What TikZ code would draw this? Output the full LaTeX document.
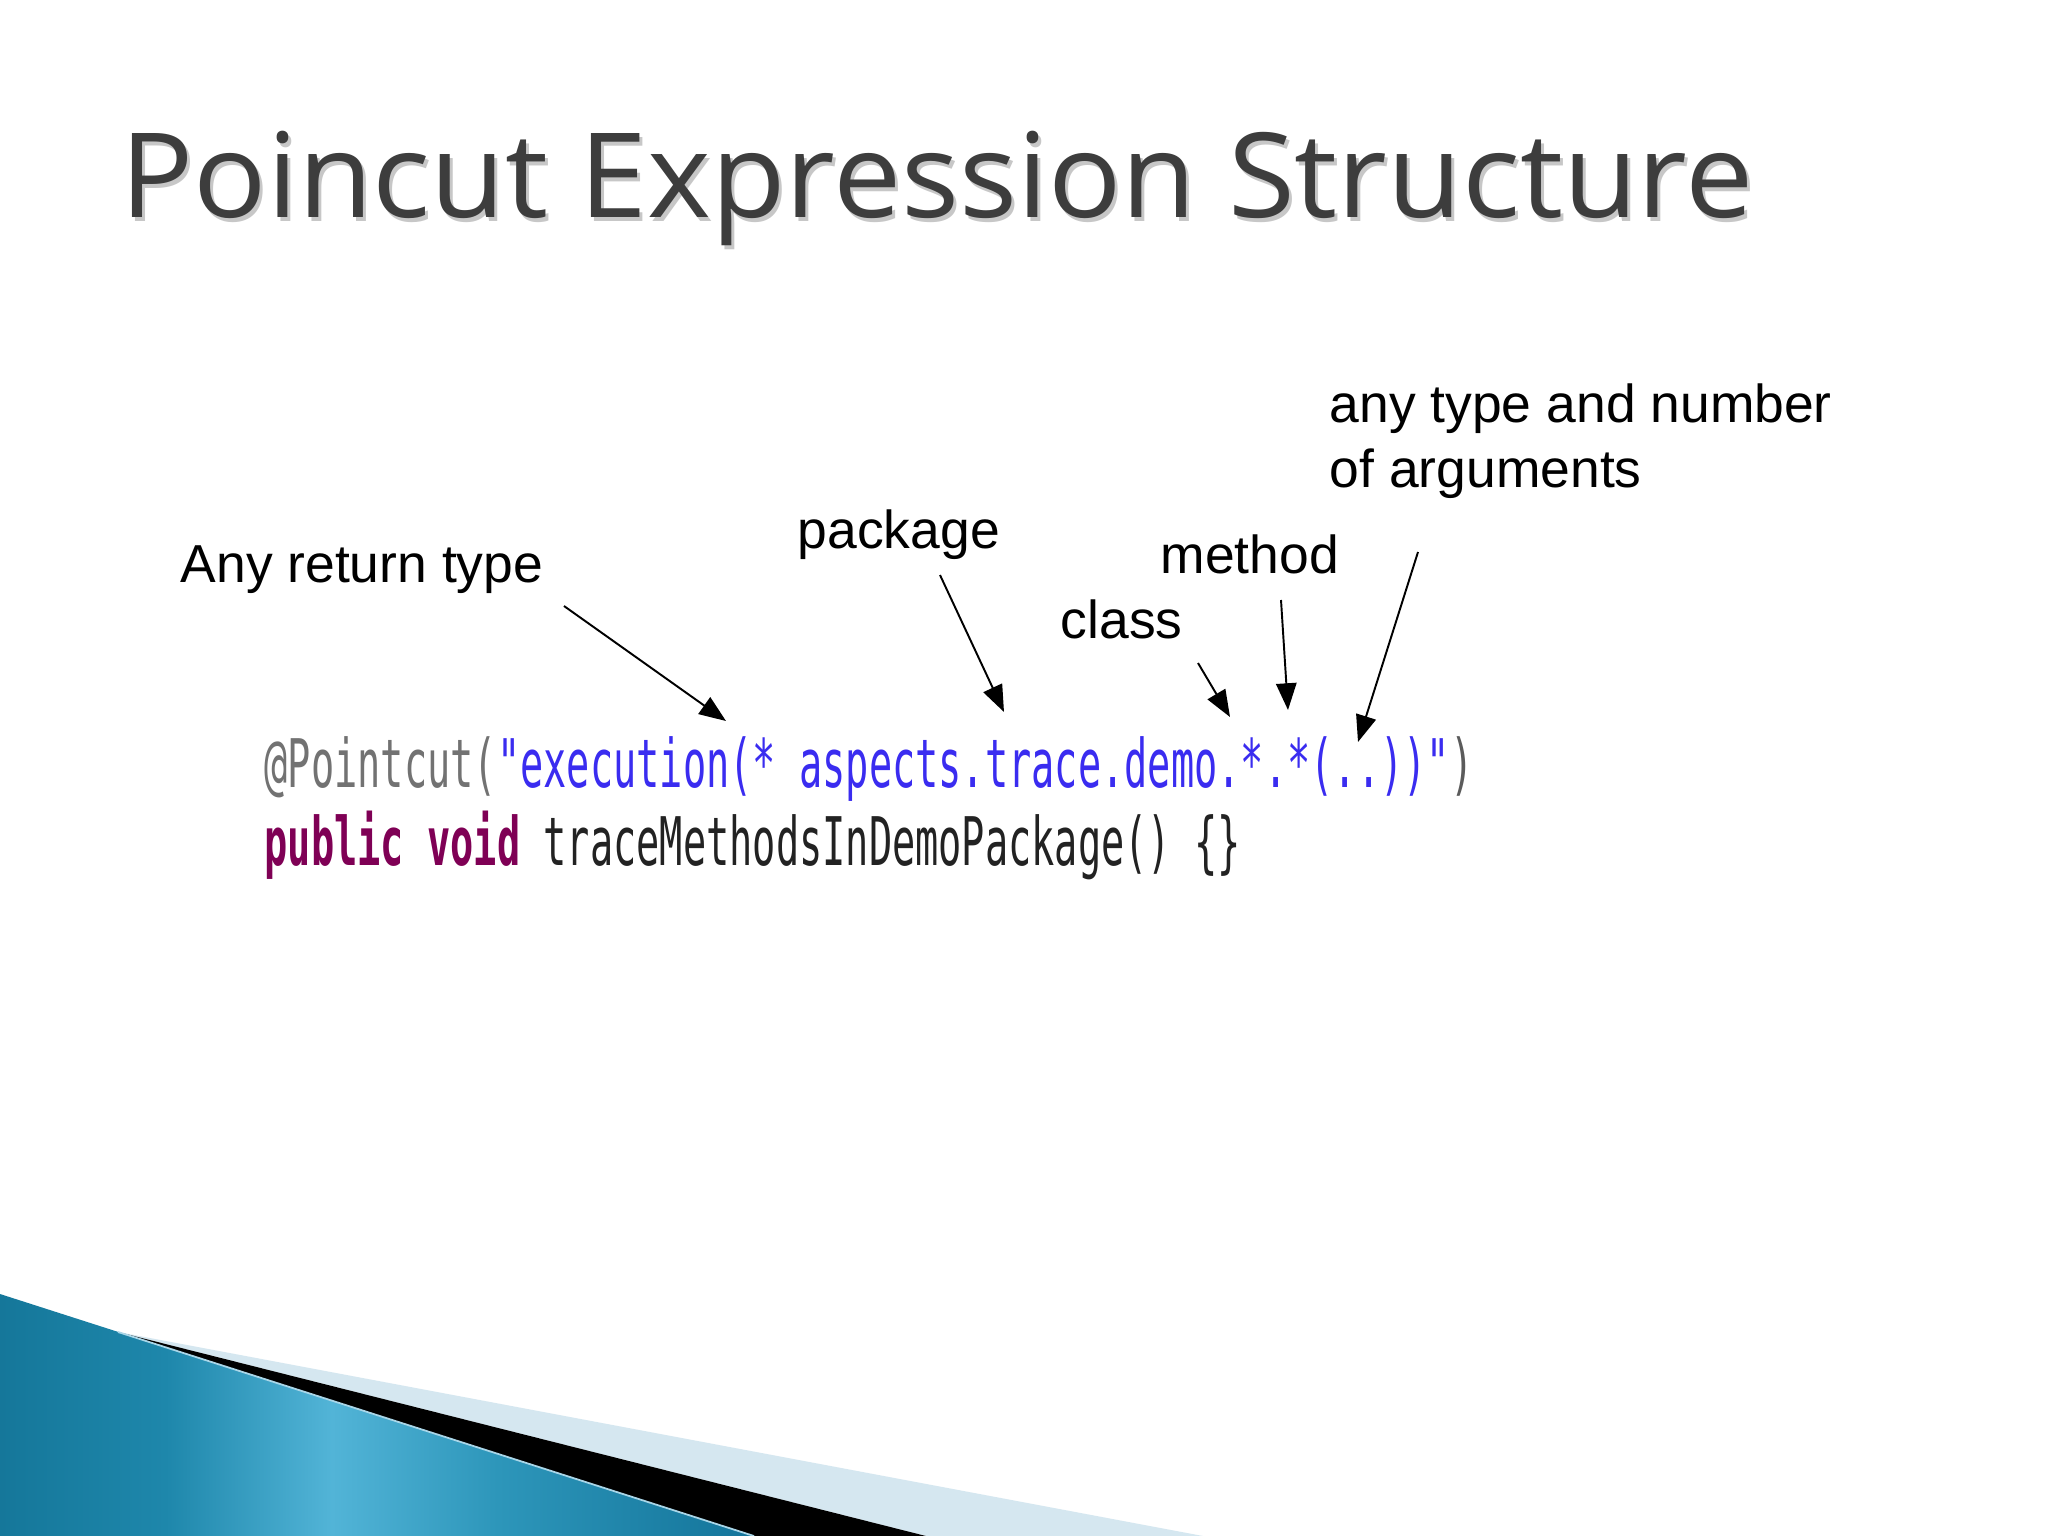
\documentclass[tikz,border=0pt]{standalone}
\usepackage{fontspec}
\usepackage{graphicx}
\usetikzlibrary{arrows.meta}
\setmainfont{Liberation Sans}
\newfontfamily\titlefont{Open Sans}
\newfontfamily\codefont{DejaVu Sans Mono}
\definecolor{titlegray}{HTML}{3D3D3D}
\definecolor{annogray}{HTML}{727272}
\definecolor{strblue}{HTML}{3A2CF0}
\definecolor{kwpurple}{HTML}{7F0055}
\definecolor{codeblack}{HTML}{222222}
\definecolor{tealA}{HTML}{15779A}
\definecolor{tealA2}{HTML}{1E87AB}
\definecolor{tealB}{HTML}{52B4D7}
\definecolor{tealB2}{HTML}{2D96BA}
\definecolor{tealC}{HTML}{13749A}
\definecolor{paleblue}{HTML}{D5E7F0}
\definecolor{seamblue}{HTML}{A9D6E8}
\pgfdeclarehorizontalshading{tealshade}{100bp}{color(0bp)=(tealA); color(25bp)=(tealA); color(36bp)=(tealA2); color(47bp)=(tealB); color(58bp)=(tealB2); color(75bp)=(tealC); color(100bp)=(tealC)}
\tikzset{
  lbl/.style={anchor=base west, inner sep=0pt, font=\fontsize{15.2pt}{18pt}\selectfont, text=black},
  codeline/.style={anchor=base west, inner sep=0pt},
  titletext/.style={anchor=base west, inner sep=0pt, font=\fontsize{33.46pt}{40pt}\selectfont\titlefont},
  pointer/.style={draw=black, line width=0.55pt, -{Triangle[length=7.6pt,width=5.8pt]}}
}
\newcommand{\codefmt}[1]{\scalebox{0.576}[1]{\fontsize{19.06pt}{22pt}\selectfont\codefont #1}}
\newcommand{\titlefmt}[1]{\scalebox{1.034}[1]{#1}}
\begin{document}
\begin{tikzpicture}[x=0.01cm,y=-0.01cm]
\useasboundingbox (0,0) rectangle (2048,1536);
\fill[white] (0,0) rectangle (2048,1536);

% title with soft shadow
\node[titletext, text=black!22] (titleshadow) at (123,221) {\titlefmt{Poincut Expression Structure}};
\node[titletext, text=titlegray] (title) at (120,217) {\titlefmt{Poincut Expression Structure}};

% labels
\node[lbl] (ret) at (180,582) {Any return type};
\node[lbl] (pkg) at (797,548) {package};
\node[lbl] (meth) at (1160,573) {method};
\node[lbl] (cls) at (1060,638) {class};
\node[lbl] (args1) at (1329,422) {any type and number};
\node[lbl] (args2) at (1329,487) {of arguments};

% code
\node[codeline] (code1) at (264,787) {\codefmt{\textcolor{annogray}{@Pointcut(}\textcolor{strblue}{"execution(* aspects.trace.demo.*.*(..))"}\textcolor{annogray!80!black}{)}}};
\node[codeline] (code2) at (264,865) {\codefmt{\textcolor{kwpurple}{\bfseries public void} \textcolor{codeblack}{traceMethodsInDemoPackage() \{\}}}};

% connector end points
\coordinate (retS) at (564,606);
\coordinate (retE) at (726,721);
\coordinate (pkgS) at (940,575);
\coordinate (pkgE) at (1004,712);
\coordinate (clsS) at (1198,663);
\coordinate (clsE) at (1230,717);
\coordinate (methS) at (1281,600);
\coordinate (methE) at (1288,710);
\coordinate (argS) at (1418,552);
\coordinate (argE) at (1358,742);

\draw[pointer] (retS) -- (retE);
\draw[pointer] (pkgS) -- (pkgE);
\draw[pointer] (clsS) -- (clsE);
\draw[pointer] (methS) -- (methE);
\draw[pointer] (argS) -- (argE);

% bottom-left decoration
\fill[paleblue] (118,1332) -- (1203,1536) -- (926,1536) -- cycle;
\fill[black] (118,1332) -- (926,1536) -- (754,1536) -- cycle;
\shade[shading=tealshade] (0,1294) -- (754,1536) -- (0,1536) -- cycle;
\draw[seamblue, line width=0.5pt] (118,1332) -- (754,1536);
\end{tikzpicture}
\end{document}
